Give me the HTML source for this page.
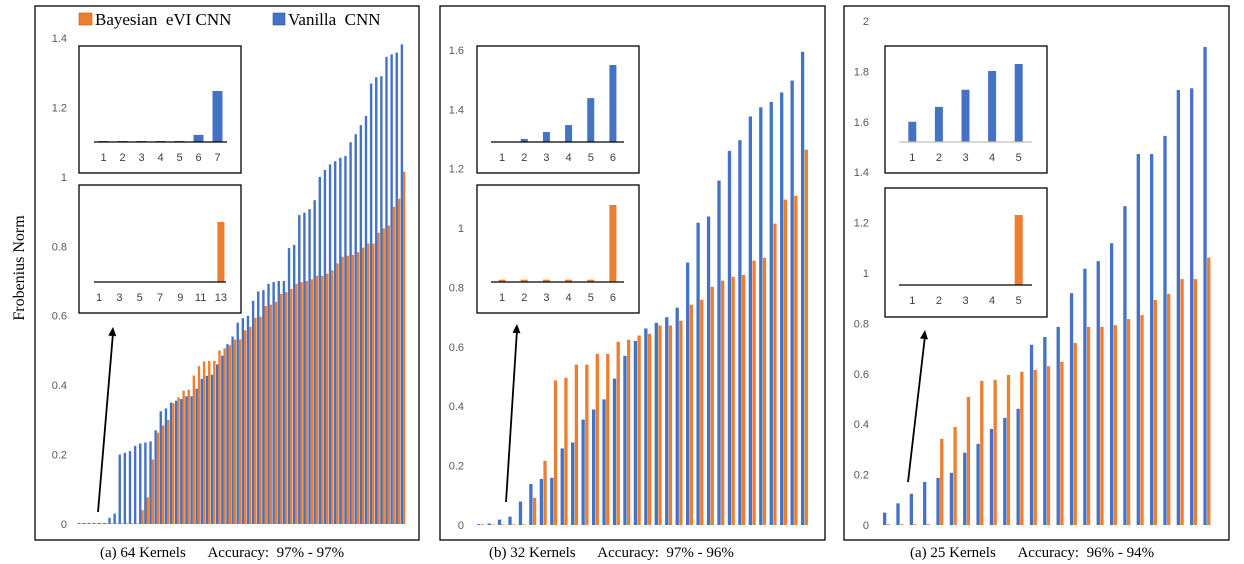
<!DOCTYPE html>
<html><head><meta charset="utf-8">
<style>
html,body{margin:0;padding:0;background:#fff;}
svg{display:block;}
.tick{font-family:"Liberation Sans",sans-serif;font-size:11px;fill:#595959;}
.ilab{font-family:"Liberation Sans",sans-serif;font-size:11px;fill:#404040;}
.ser{font-family:"Liberation Serif",serif;fill:#000;}
</style></head>
<body>
<svg id="c" width="1244" height="564" viewBox="0 0 1244 564" xmlns="http://www.w3.org/2000/svg"></svg>
<script>
// ---- Panel 1 (64 kernels) ----
const p1Blue=[0.003,0.003,0.003,0.003,0.003,0.003,0.018,0.03,0.20,0.205,0.21,0.225,0.232,0.235,0.238,0.27,0.325,0.333,0.35,0.355,0.36,0.368,0.368,0.39,0.418,0.427,0.43,0.46,0.485,0.518,0.54,0.58,0.593,0.60,0.643,0.67,0.674,0.692,0.697,0.70,0.70,0.795,0.804,0.89,0.897,0.907,0.933,1.0,1.02,1.036,1.045,1.055,1.06,1.10,1.123,1.149,1.176,1.269,1.287,1.29,1.346,1.353,1.358,1.382];
const p1Orange=[0,0,0,0,0,0,0,0,0,0,0,0,0.04,0.077,0.186,0.263,0.284,0.30,0.348,0.365,0.384,0.387,0.428,0.455,0.468,0.47,0.47,0.50,0.506,0.515,0.531,0.532,0.558,0.568,0.594,0.597,0.628,0.632,0.64,0.663,0.668,0.677,0.692,0.697,0.70,0.705,0.715,0.715,0.721,0.731,0.751,0.77,0.773,0.775,0.783,0.796,0.808,0.808,0.839,0.852,0.86,0.914,0.937,1.015];
const p1Ticks=["0","0.2","0.4","0.6","0.8","1","1.2","1.4"];
const p1InsetALabels=["1","2","3","4","5","6","7"];
const p1InsetAValues=[0.02,0.02,0.02,0.02,0.02,0.14,1.0];
const p1InsetBLabels=["1","","3","","5","","7","","9","","11","","13"];
const p1InsetBValues=[0,0,0,0,0,0,0,0,0,0,0,0,1.0];
// ---- Panel 2 (32 kernels) ----
const p2Blue=[0.003,0.005,0.018,0.028,0.079,0.138,0.155,0.159,0.258,0.278,0.355,0.389,0.423,0.493,0.57,0.62,0.662,0.681,0.70,0.732,0.884,1.018,1.039,1.16,1.26,1.296,1.376,1.407,1.425,1.457,1.497,1.594];
const p2Orange=[0.002,0.002,0.002,0.002,0.002,0.091,0.216,0.487,0.496,0.54,0.54,0.576,0.576,0.617,0.624,0.638,0.644,0.672,0.672,0.688,0.742,0.759,0.802,0.823,0.836,0.842,0.89,0.90,1.015,1.096,1.109,1.264];
const p2Ticks=["0","0.2","0.4","0.6","0.8","1","1.2","1.4","1.6"];
const p2InsetALabels=["1","2","3","4","5","6"];
const p2InsetAValues=[0,0.04,0.13,0.22,0.57,1.0];
const p2InsetBLabels=["1","2","3","4","5","6"];
const p2InsetBValues=[0.03,0.03,0.03,0.03,0.03,1.0];
// ---- Panel 3 (25 kernels) ----
const p3Blue=[0.049,0.086,0.124,0.171,0.187,0.207,0.287,0.322,0.381,0.425,0.461,0.715,0.746,0.786,0.92,1.017,1.047,1.118,1.265,1.472,1.472,1.544,1.726,1.733,1.897];
const p3Orange=[0.003,0.003,0.003,0.003,0.342,0.389,0.508,0.572,0.576,0.595,0.608,0.615,0.63,0.648,0.722,0.786,0.786,0.793,0.817,0.833,0.893,0.917,0.976,0.976,1.061];
const p3Ticks=["0","0.2","0.4","0.6","0.8","1","1.2","1.4","1.6","1.8","2"];
const p3InsetALabels=["1","2","3","4","5"];
const p3InsetAValues=[0.26,0.45,0.67,0.91,1.0];
const p3InsetBLabels=["1","2","3","4","5"];
const p3InsetBValues=[0,0,0,0,1.0];

const NS="http://www.w3.org/2000/svg";
const svg=document.getElementById('c');
const BLUE="#4472C4", ORANGE="#ED7D31";
function mk(tag,attrs,parent,text){
  const e=document.createElementNS(NS,tag);
  for(const k in attrs) e.setAttribute(k,attrs[k]);
  if(text!==undefined) e.textContent=text;
  (parent||svg).appendChild(e);
  return e;
}

function panel(name,g,blue,orange,ticks,caption,insA,insB){
  const grp=mk('g',{});
  
  
  const fr=mk('rect',{x:g.fx0,y:6,width:g.fx1-g.fx0,height:534,fill:'none',stroke:'#000','stroke-width':1.3},grp);
  
  
  const yS=v=>g.y0-v*g.ppu;
  const xS=i=>g.x0+i*g.step;
  ticks.forEach((t,i)=>{
    const tx=mk('text',{x:g.tickX,y:yS(i*g.tickStep)+4,'text-anchor':'end',class:'tick'},grp,t);
    
    
  });
  blue.forEach((v,i)=>{
    const h=Math.max(v*g.ppu,0.8);
    const r=mk('rect',{x:xS(i),y:g.y0-h,width:g.bw,height:h,fill:BLUE},grp);
    
    
  });
  orange.forEach((v,i)=>{
    const h=Math.max(v*g.ppu,0.6);
    const r=mk('rect',{x:xS(i)+g.off,y:g.y0-h,width:g.bw,height:h,fill:ORANGE},grp);
    
    
  });
  [insA,insB].forEach((ins,k)=>{
    const box=mk('rect',{x:ins.x0,y:ins.y0,width:ins.x1-ins.x0,height:ins.y1-ins.y0,fill:'#fff',stroke:'#000','stroke-width':1.3},grp);
    
    
    const n=ins.values.length, st=(ins.bx1-ins.bx0)/n;
    ins.values.forEach((v,i)=>{
      const h=Math.max(v*ins.hMax,v>0?1:0);
      if(h>0){
        const r=mk('rect',{x:ins.bx0+(i+0.5)*st-ins.bw/2,y:ins.base-h,width:ins.bw,height:h,fill:ins.color},grp);
        
        
      }
      if(ins.labels[i]){
        const t=mk('text',{x:ins.bx0+(i+0.5)*st,y:ins.base+19,'text-anchor':'middle',class:'ilab'},grp,ins.labels[i]);
        
        
      }
    });
    const ax=mk('line',{x1:ins.bx0,y1:ins.base,x2:ins.bx1,y2:ins.base,stroke:ins.axisColor,'stroke-width':1.3},grp);
    
    
  });
  const ar=mk('line',{x1:g.ax1,y1:g.ay1,x2:g.ax2,y2:g.ay2+6,stroke:'#000','stroke-width':1.8},grp);
  
  
  const dx=g.ax2-g.ax1, dy=g.ay2-g.ay1, L=Math.hypot(dx,dy), ux=dx/L, uy=dy/L;
  const hd=mk('polygon',{points:`${g.ax2},${g.ay2} ${g.ax2-ux*9-uy*4},${g.ay2-uy*9+ux*4} ${g.ax2-ux*9+uy*4},${g.ay2-uy*9-ux*4}`,fill:'#000'},grp);
  
  
  const cp=mk('text',{x:g.capX,y:557,class:'ser','font-size':'15',style:'white-space:pre'},grp,caption);
  
  
}

panel('panel-64-kernels',
  {fx0:35,fx1:419,y0:524,ppu:347.1,tickStep:0.2,tickX:67,x0:77.5,step:5.13,bw:2.4,off:2.3,ax1:98,ay1:512,ax2:113,ay2:327,capX:100},
  p1Blue,p1Orange,p1Ticks,"(a) 64 Kernels      Accuracy:  97% - 97%",
  {x0:79,y0:46,x1:241,y1:173,bx0:94,bx1:227,base:142,bw:10,hMax:51,values:p1InsetAValues,labels:p1InsetALabels,color:BLUE,axisColor:'#000'},
  {x0:79,y0:185,x1:241,y1:313,bx0:94,bx1:226,base:282,bw:7,hMax:60,values:p1InsetBValues,labels:p1InsetBLabels,color:ORANGE,axisColor:'#000'});
panel('panel-32-kernels',
  {fx0:440,fx1:825,y0:525,ppu:296.9,tickStep:0.2,tickX:464,x0:477,step:10.45,bw:3.3,off:3.7,ax1:506,ay1:502,ax2:517,ay2:324,capX:489},
  p2Blue,p2Orange,p2Ticks,"(b) 32 Kernels      Accuracy:  97% - 96%",
  {x0:477,y0:46,x1:639,y1:173,bx0:491,bx1:624,base:142,bw:7,hMax:77,values:p2InsetAValues,labels:p2InsetALabels,color:BLUE,axisColor:'#000'},
  {x0:477,y0:185,x1:639,y1:313,bx0:491,bx1:624,base:282,bw:7,hMax:77,values:p2InsetBValues,labels:p2InsetBLabels,color:ORANGE,axisColor:'#000'});
panel('panel-25-kernels',
  {fx0:844,fx1:1229,y0:525,ppu:252,tickStep:0.2,tickX:869,x0:883,step:13.35,bw:3.3,off:3.7,ax1:908,ay1:482,ax2:925,ay2:330,capX:910},
  p3Blue,p3Orange,p3Ticks,"(a) 25 Kernels      Accuracy:  96% - 94%",
  {x0:885,y0:46,x1:1047,y1:173,bx0:899,bx1:1032,base:142,bw:8,hMax:78,values:p3InsetAValues,labels:p3InsetALabels,color:BLUE,axisColor:'#BFBFBF'},
  {x0:885,y0:188,x1:1047,y1:317,bx0:899,bx1:1032,base:285,bw:8,hMax:70,values:p3InsetBValues,labels:p3InsetBLabels,color:ORANGE,axisColor:'#000'});

// legend
const lg=mk('g',{});


const s1=mk('rect',{x:79,y:13,width:13,height:12,fill:ORANGE,stroke:'#c55a11','stroke-width':0.6},lg);


const t1=mk('text',{x:95,y:25,class:'ser','font-size':'17',style:'white-space:pre'},lg,"Bayesian  eVI CNN");


const s2=mk('rect',{x:273,y:13,width:12,height:12,fill:BLUE,stroke:'#2f5597','stroke-width':0.6},lg);


const t2=mk('text',{x:288,y:25,class:'ser','font-size':'17',style:'white-space:pre'},lg,"Vanilla  CNN");


const yt=mk('text',{x:0,y:0,class:'ser','font-size':'16','text-anchor':'middle',transform:'translate(24,268) rotate(-90)'},svg,"Frobenius Norm");


</script>
</body></html>
